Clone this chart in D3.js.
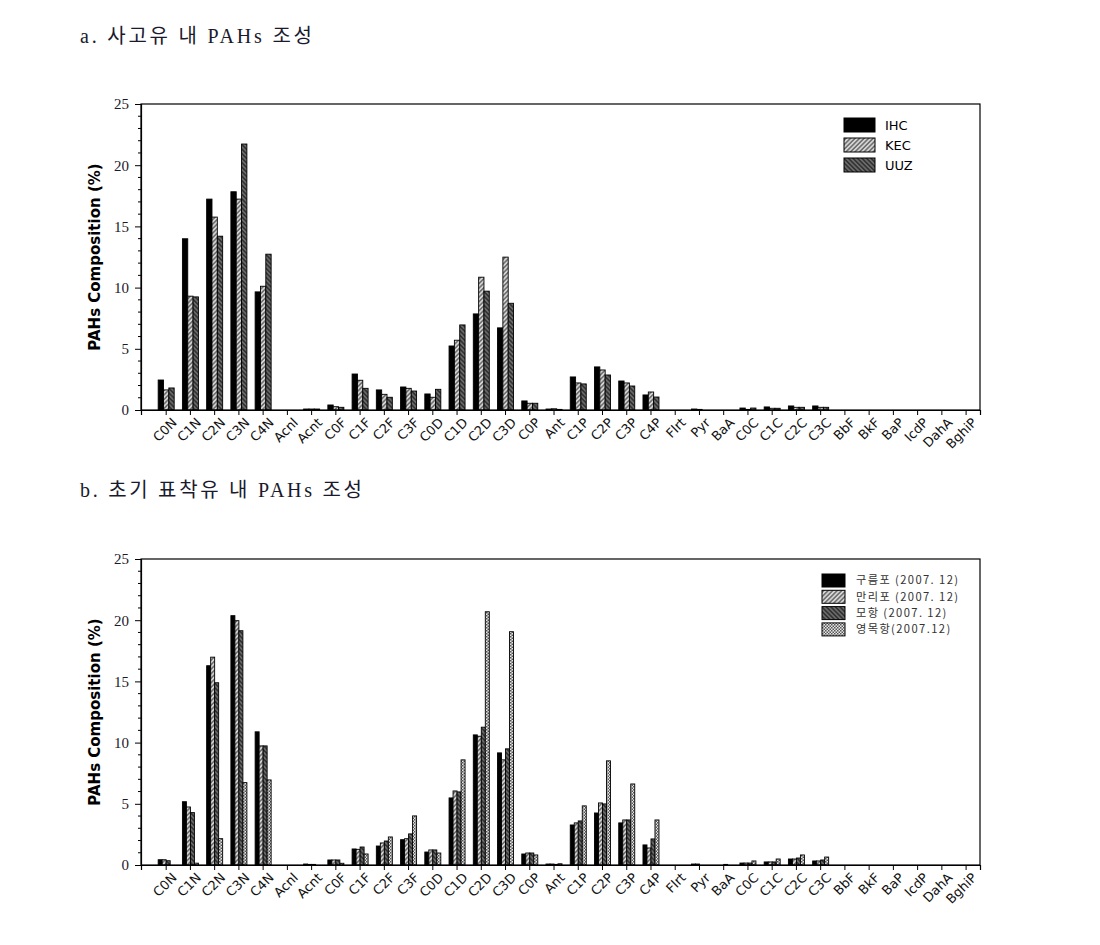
<!DOCTYPE html>
<html><head><meta charset="utf-8">
<script src="https://cdn.jsdelivr.net/npm/d3@7"></script>
<style>
body{margin:0;background:#fff;}
svg{display:block;}
</style></head>
<body>
<script>
const categories = ["C0N","C1N","C2N","C3N","C4N","Acnl","Acnt","C0F","C1F","C2F","C3F","C0D","C1D","C2D","C3D","C0P","Ant","C1P","C2P","C3P","C4P","Flrt","Pyr","BaA","C0C","C1C","C2C","C3C","BbF","BkF","BaP","IcdP","DahA","BghiP"];
const yTicks = [0,5,10,15,20,25];

// Chart a
const seriesA = ["IHC","KEC","UUZ"];
const ihc = [2.45,13.99,17.23,17.83,9.65,0,0.08,0.41,2.94,1.64,1.88,1.31,5.23,7.85,6.71,0.74,0.08,2.70,3.52,2.37,1.23,0,0.08,0,0.16,0.25,0.33,0.33,0,0,0,0,0,0];
const kec = [1.64,9.30,15.76,17.23,10.11,0,0.08,0.27,2.43,1.28,1.77,1.04,5.70,10.85,12.49,0.55,0.10,2.21,3.27,2.21,1.47,0,0.05,0,0.05,0.14,0.22,0.22,0,0,0,0,0,0];
const uuz = [1.80,9.24,14.20,21.73,12.73,0,0.08,0.22,1.77,1.04,1.55,1.69,6.95,9.71,8.72,0.55,0.05,2.13,2.86,1.96,1.06,0,0,0,0.16,0.14,0.22,0.22,0,0,0,0,0,0];

// Chart b
const seriesB = ["구름포 (2007. 12)","만리포 (2007. 12)","모항 (2007. 12)","영목항(2007.12)"];
const gureumpo = [0.43,5.17,16.28,20.37,10.88,0,0.08,0.41,1.31,1.55,2.07,1.06,5.48,10.63,9.16,0.90,0.08,3.27,4.25,3.44,1.64,0,0.08,0,0.16,0.25,0.49,0.33,0,0,0,0,0,0];
const mallipo = [0.43,4.74,16.98,19.96,9.73,0,0.05,0.41,1.28,1.80,2.15,1.23,6.05,10.52,8.59,0.98,0.08,3.44,5.07,3.68,1.39,0,0.08,0,0.16,0.25,0.49,0.33,0,0,0,0,0,0];
const mohang = [0.35,4.28,14.89,19.14,9.73,0,0.05,0.41,1.47,1.96,2.54,1.23,5.97,11.26,9.49,0.98,0.05,3.60,4.99,3.68,2.13,0,0,0.05,0.16,0.25,0.57,0.41,0,0,0,0,0,0];
const yeongmok = [0,0.15,2.15,6.73,6.95,0,0,0.14,0.90,2.29,4.01,0.98,8.59,20.69,19.06,0.82,0.10,4.83,8.51,6.62,3.68,0,0,0,0.33,0.49,0.82,0.65,0,0,0,0,0,0];

const W = 1100, H = 945;
const svg = d3.select("body").append("svg").attr("width", W).attr("height", H);
const defs = svg.append("defs");

function hatch(id, bg, fg, angle, spacing, sw){
  const p = defs.append("pattern").attr("id", id).attr("patternUnits","userSpaceOnUse")
    .attr("width", spacing).attr("height", spacing).attr("patternTransform", `rotate(${angle})`);
  p.append("rect").attr("width", spacing).attr("height", spacing).attr("fill", bg);
  p.append("line").attr("x1", spacing/2).attr("x2", spacing/2).attr("y1", 0).attr("y2", spacing)
    .attr("stroke", fg).attr("stroke-width", sw);
}
hatch("pLight", "#d4d4d4", "#444", 45, 3.2, 1.1);
hatch("pDark", "#6a6a6a", "#1a1a1a", -45, 3.2, 1.1);
{
  const p = defs.append("pattern").attr("id","pCheck").attr("patternUnits","userSpaceOnUse")
    .attr("width", 3).attr("height", 3);
  p.append("rect").attr("width",3).attr("height",3).attr("fill","#e8e8e8");
  p.append("rect").attr("x",0).attr("y",0).attr("width",1.5).attr("height",1.5).attr("fill","#555");
  p.append("rect").attr("x",1.5).attr("y",1.5).attr("width",1.5).attr("height",1.5).attr("fill","#555");
}
const fills = ["#000", "url(#pLight)", "url(#pDark)", "url(#pCheck)"];

const left = 141, right = 980;
const serifFont = "'Liberation Serif','DejaVu Serif','Noto Sans CJK KR',serif";
const sansFont = "'DejaVu Sans','Noto Sans',sans-serif";

function drawChart(cfg){
  const {top, bottom, seriesNames, values, title, titleY, titleLen, legend} = cfg;
  const g = svg.append("g");
  const x = d3.scaleBand().domain(categories).range([left, right]).paddingInner(0).paddingOuter(0.306).align(0.88);
  const y = d3.scaleLinear().domain([0, 25]).range([bottom, top]);
  const groupW = 16;
  const xs = d3.scaleBand().domain(seriesNames).range([-groupW/2, groupW/2]).padding(0);

  // title
  svg.append("text").attr("x", 80).attr("y", titleY).attr("font-family", serifFont)
    .attr("font-size", 20).attr("fill", "#1a1a2e")
    .attr("textLength", titleLen).attr("lengthAdjust", "spacing").text(title);

  // bars
  seriesNames.forEach((s, si) => {
    g.append("g").selectAll("rect").data(categories.map((c, i) => ({c, v: values[si][i]})))
      .join("rect")
      .filter(d => d.v > 0)
      .attr("x", d => x(d.c) + x.bandwidth()/2 + xs(s))
      .attr("width", xs.bandwidth())
      .attr("y", d => y(d.v))
      .attr("height", d => y(0) - y(d.v))
      .attr("fill", fills[si])
      .attr("stroke", "#000").attr("stroke-width", 0.9);
  });

  // frame
  g.append("rect").attr("x", left).attr("y", top).attr("width", right-left).attr("height", bottom-top)
    .attr("fill","none").attr("stroke","#000").attr("stroke-width",1.2);

  // y axis
  const yAxis = d3.axisLeft(y).tickValues(yTicks).tickSize(6).tickPadding(6);
  const ya = g.append("g").attr("transform", `translate(${left},0)`).call(yAxis);
  ya.select(".domain").attr("stroke-width", 1.2);
  ya.selectAll("text").attr("font-family", serifFont).attr("font-size", 15).attr("fill", "#1a1a2e");
  const minor = d3.range(0, 26).filter(v => v % 5 !== 0);
  g.append("g").selectAll("line").data(minor).join("line")
    .attr("x1", left - 3).attr("x2", left).attr("y1", d => y(d)).attr("y2", d => y(d))
    .attr("stroke", "#000").attr("stroke-width", 1);

  // x axis
  const xAxis = d3.axisBottom(x).tickSize(5).tickPadding(4);
  const xa = g.append("g").attr("transform", `translate(0,${bottom})`).call(xAxis);
  xa.select(".domain").attr("stroke-width", 1.2);
  xa.selectAll("text").attr("font-family", sansFont).attr("font-size", 13).attr("fill", "#111")
    .attr("text-anchor", "end").attr("dy", "0.35em")
    .attr("transform", "translate(4,6) rotate(-45)")
    .attr("x", 0).attr("y", 6);

  // y title
  g.append("text").attr("transform", `translate(100,${(top+bottom)/2}) rotate(-90)`)
    .attr("text-anchor","middle").attr("font-family", sansFont).attr("font-weight","bold")
    .attr("font-size", 15).attr("fill","#000").text("PAHs Composition (%)");

  // legend
  const lg = g.append("g");
  seriesNames.forEach((s, si) => {
    const yy = legend.y + si*legend.step;
    lg.append("rect").attr("x", legend.x).attr("y", yy).attr("width", legend.w).attr("height", legend.h)
      .attr("fill", fills[si]).attr("stroke","#000").attr("stroke-width",1);
    lg.append("text").attr("x", legend.tx).attr("y", yy + legend.h/2).attr("dy","0.35em")
      .attr("font-family", legend.font).attr("font-size", legend.fs).attr("fill", legend.color)
      .attr("letter-spacing", legend.ls).text(s);
  });
}

drawChart({top: 104, bottom: 410, seriesNames: seriesA, values: [ihc, kec, uuz],
  title: "a. 사고유 내 PAHs 조성", titleY: 43, titleLen: 232,
  legend: {x: 844, y: 118, step: 20, w: 31, h: 14, tx: 885, fs: 13, ls: 0, font: sansFont, color: "#000"}});

drawChart({top: 559, bottom: 865, seriesNames: seriesB, values: [gureumpo, mallipo, mohang, yeongmok],
  title: "b. 초기 표착유 내 PAHs 조성", titleY: 497, titleLen: 282,
  legend: {x: 822, y: 574, step: 16.3, w: 23, h: 13, tx: 856, fs: 11.2, ls: 1.4, font: "'Noto Sans CJK KR','DejaVu Sans',sans-serif", color: "#333"}});
</script>
</body></html>
